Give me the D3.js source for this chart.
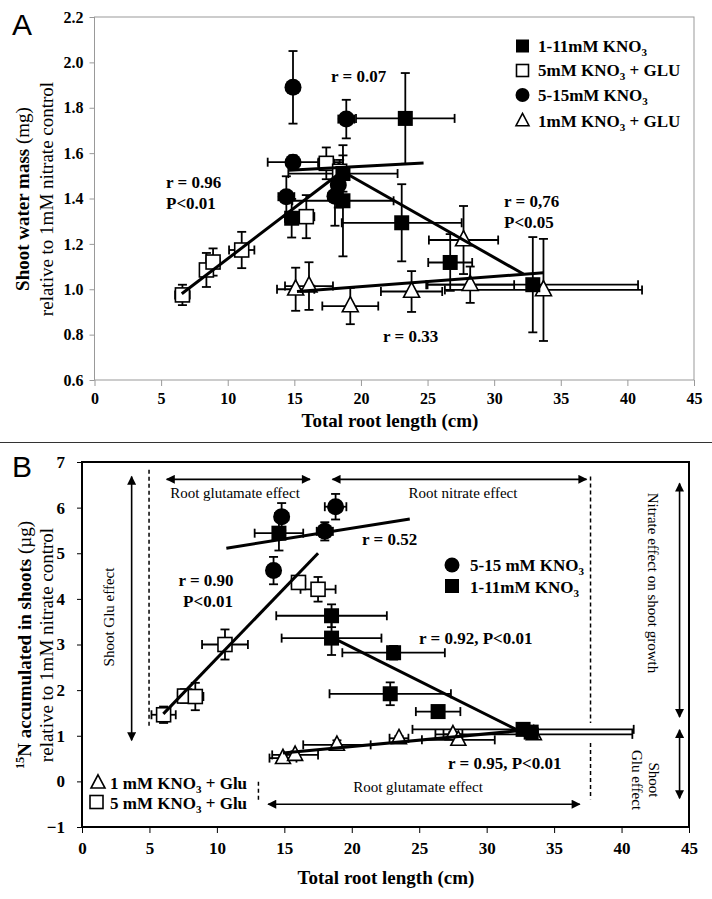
<!DOCTYPE html>
<html><head><meta charset="utf-8">
<script src="https://cdn.jsdelivr.net/npm/d3@7"></script>
<style>body{margin:0;background:#fff}</style>
</head><body><svg id="c" width="712" height="899" xmlns="http://www.w3.org/2000/svg"></svg>
<script>
// ---------- DATA ----------
const xTicks = [0,5,10,15,20,25,30,35,40,45];
const yTicksA = [0.6,0.8,1.0,1.2,1.4,1.6,1.8,2.0,2.2];
const yTicksB = [-1,0,1,2,3,4,5,6,7];

// Panel A: [rootLength, shootWater, xErr, yErr]
const aNit1_11 = [[23.33,1.753,3.7,0.20],[18.65,1.51,4.1,0.08],[18.65,1.39,3.8,0.245],[23.06,1.293,4.5,0.17],[26.7,1.118,1.65,0.125],[32.9,1.02,7.9,0.21],[14.8,1.313,0.5,0.085]];
const aGlu5 = [[6.6,0.975,0.55,0.045],[8.4,1.085,0.45,0.075],[8.9,1.12,0.5,0.06],[11.05,1.173,0.95,0.08],[15.9,1.32,0.6,0.095],[17.4,1.555,0.6,0.07],[18.4,1.52,0.4,0.05]];
const aNit5_15 = [[14.9,1.89,0.45,0.16],[18.9,1.75,0.6,0.085],[14.9,1.56,1.9,0.03],[14.4,1.408,0.6,0.09],[18.05,1.41,0.5,0.13],[18.3,1.46,0.4,0.1]];
const aGlu1 = [[15.1,1.0,1.4,0.095],[16.1,1.014,1.8,0.105],[19.2,0.926,2.1,0.08],[23.8,0.99,2.3,0.09],[28.2,1.02,3.3,0.08],[27.7,1.217,2.6,0.15],[33.7,0.997,7.4,0.225]];
const aFitGlu5 = [[6.55,0.98],[18.6,1.52]];
const aFitNit = [[18.6,1.52],[32.2,1.067]];
const aFitCirc = [[14.6,1.525],[24.7,1.556]];
const aFitGlu1 = [[15.2,0.99],[33.7,1.073]];

// Panel B: [rootLength, 15N, xErr, yErr]
const bNit5_15 = [[14.8,5.80,0.5,0.3],[14.2,4.62,0.45,0.3],[18.0,5.48,0.6,0.2],[18.8,6.02,0.8,0.28]];
const bNit1_11 = [[14.6,5.44,1.8,0.38],[18.5,3.63,4.1,0.25],[18.5,3.14,3.7,0.37],[23.1,2.82,3.8,0.15],[22.85,1.92,4.5,0.25],[26.4,1.53,1.65,0.1],[32.7,1.14,8.2,0.08],[33.3,1.08,0.5,0.05]];
const bGlu5 = [[6.05,1.46,0.9,0.18],[7.6,1.87,0.5,0.15],[8.4,1.86,0.6,0.3],[10.6,3.0,1.7,0.33],[16.05,4.36,0.5,0.1],[17.5,4.21,1.3,0.27]];
const bGlu1 = [[14.9,0.51,1.0,0.05],[15.8,0.58,1.7,0.08],[18.9,0.80,2.5,0.1],[23.5,0.945,0.7,0.05],[27.5,1.03,0.7,0.05],[27.9,0.91,2.7,0.05],[33.5,1.03,7.3,0.05]];
const bFitCirc = [[10.7,5.11],[24.3,5.75]];
const bFitGlu5 = [[6.03,1.48],[17.5,5.0]];
const bFitNit = [[18.5,3.16],[32.25,1.13]];
const bFitGlu1 = [[14.9,0.62],[33.5,1.14]];

// ---------- DRAW ----------
const SERIF = "'Liberation Serif','Times New Roman',serif";
const svg = d3.select("#c");
const defs = svg.append("defs");
defs.append("marker").attr("id","ah").attr("viewBox","0 0 10 10").attr("refX",9).attr("refY",5)
  .attr("markerWidth",10).attr("markerHeight",9).attr("markerUnits","userSpaceOnUse").attr("orient","auto-start-reverse")
  .append("path").attr("d","M0,0 L10,5 L0,10 z").attr("fill","#000");

function richText(g, x, y, parts, opts={}) {
  const size = opts.size||17;
  const t = g.append("text").attr("x",x).attr("y",y)
    .attr("font-family",SERIF).attr("font-size",size)
    .attr("font-weight",opts.weight||"bold").attr("text-anchor",opts.anchor||"start").attr("fill","#000");
  if (opts.transform) t.attr("transform",opts.transform);
  parts.forEach(p => {
    if (typeof p === "string") t.append("tspan").text(p);
    else {
      const ts = t.append("tspan").text(p.t);
      if (p.sub) ts.attr("font-size",size*0.65).attr("dy",4);
      if (p.sup) ts.attr("font-size",size*0.65).attr("dy",-7);
      if (p.w) ts.attr("font-weight",p.w);
      if (p.back) ts.attr("dy",p.back);
    }
  });
  return t;
}

function errorBars(g, data, xs, ys, cap=4.5) {
  const e = g.append("g").attr("stroke","#000").attr("stroke-width",1.8).attr("fill","none");
  data.forEach(d => {
    const cx = xs(d[0]), cy = ys(d[1]);
    const x0 = xs(d[0]-d[2]), x1 = xs(d[0]+d[2]);
    const y0 = ys(d[1]-d[3]), y1 = ys(d[1]+d[3]);
    e.append("line").attr("x1",x0).attr("x2",x1).attr("y1",cy).attr("y2",cy);
    e.append("line").attr("x1",x0).attr("x2",x0).attr("y1",cy-cap).attr("y2",cy+cap);
    e.append("line").attr("x1",x1).attr("x2",x1).attr("y1",cy-cap).attr("y2",cy+cap);
    e.append("line").attr("x1",cx).attr("x2",cx).attr("y1",y0).attr("y2",y1);
    e.append("line").attr("x1",cx-cap).attr("x2",cx+cap).attr("y1",y0).attr("y2",y0);
    e.append("line").attr("x1",cx-cap).attr("x2",cx+cap).attr("y1",y1).attr("y2",y1);
  });
}

function marker(g, shape, x, y, s) {
  if (shape === "circle") {
    g.append("circle").attr("cx",x).attr("cy",y).attr("r",s/2).attr("fill","#000");
  } else if (shape === "square") {
    g.append("rect").attr("x",x-s/2).attr("y",y-s/2).attr("width",s).attr("height",s).attr("fill","#000");
  } else if (shape === "osquare") {
    g.append("rect").attr("x",x-s/2).attr("y",y-s/2).attr("width",s).attr("height",s).attr("fill","#fff").attr("stroke","#000").attr("stroke-width",1.6);
  } else if (shape === "otri") {
    const h = s*0.95;
    g.append("path").attr("d",`M${x},${y-h*0.62} L${x+s/2},${y+h*0.38} L${x-s/2},${y+h*0.38} Z`)
      .attr("fill","#fff").attr("stroke","#000").attr("stroke-width",1.6).attr("stroke-linejoin","miter");
  }
}
function points(g, data, xs, ys, shape, s) {
  const m = g.append("g");
  data.forEach(d => marker(m, shape, xs(d[0]), ys(d[1]), s));
}
function fit(g, pts, xs, ys, w=3) {
  g.append("path").attr("d", d3.line().x(d=>xs(d[0])).y(d=>ys(d[1]))(pts))
    .attr("stroke","#000").attr("stroke-width",w).attr("fill","none");
}

// ---------------- Panel A ----------------
const xA = d3.scaleLinear().domain([0,45]).range([94.5,694]);
const yA = d3.scaleLinear().domain([0.6,2.2]).range([380,17]);
const gA = svg.append("g");

const axA = gA.append("g").attr("transform","translate(0,380)")
  .call(d3.axisBottom(xA).tickValues(xTicks).tickSize(6).tickSizeOuter(0).tickPadding(7));
const ayA = gA.append("g").attr("transform","translate(94.5,0)")
  .call(d3.axisLeft(yA).tickValues(yTicksA).tickFormat(d3.format(".1f")).tickSize(5).tickSizeOuter(0).tickPadding(6));
[axA,ayA].forEach(a => {
  a.select(".domain").remove();
  a.selectAll("line").attr("stroke","#999");
  a.selectAll("text").attr("font-family",SERIF).attr("font-weight","bold").attr("font-size",16).attr("fill","#000");
});
gA.append("rect").attr("x",94.5).attr("y",17).attr("width",694-94.5).attr("height",363)
  .attr("fill","none").attr("stroke","#999").attr("stroke-width",1);

errorBars(gA, aGlu1, xA, yA);
errorBars(gA, aGlu5, xA, yA);
errorBars(gA, aNit1_11, xA, yA);
errorBars(gA, aNit5_15, xA, yA);
points(gA, aGlu1, xA, yA, "otri", 16);
points(gA, aGlu5, xA, yA, "osquare", 14);
points(gA, aNit1_11, xA, yA, "square", 15);
points(gA, aNit5_15, xA, yA, "circle", 17);
fit(gA, aFitGlu5, xA, yA);
fit(gA, aFitNit, xA, yA);
fit(gA, aFitCirc, xA, yA);
fit(gA, aFitGlu1, xA, yA);

richText(gA, 331, 82, ["r = 0.07"]);
richText(gA, 166, 188, ["r = 0.96"]);
richText(gA, 166, 209, ["P<0.01"]);
richText(gA, 504, 207, ["r =  0,76"]);
richText(gA, 504, 228, ["P<0.05"]);
richText(gA, 383, 342, ["r = 0.33"]);

// legend A
const legA = gA.append("g");
marker(legA, "square", 522.5, 46, 13);
marker(legA, "osquare", 522.5, 70.5, 12);
marker(legA, "circle", 522.5, 95, 14);
marker(legA, "otri", 522.5, 121, 13);
richText(legA, 538, 52, ["1-11mM KNO",{t:"3",sub:true}]);
richText(legA, 538, 76, ["5mM KNO",{t:"3",sub:true},{t:" + GLU",back:-4}]);
richText(legA, 538, 101, ["5-15mM KNO",{t:"3",sub:true}]);
richText(legA, 538, 127, ["1mM KNO",{t:"3",sub:true},{t:" + GLU",back:-4}]);

// axis titles A
richText(gA, 390, 427, ["Total root length (cm)"], {size:19, anchor:"middle"});
richText(gA, 0, 0, ["Shoot water mass ",{t:"(mg)",w:"normal"}], {size:19, anchor:"middle", transform:"translate(29,199) rotate(-90)"});
richText(gA, 0, 0, ["relative to 1mM nitrate control"], {size:19, weight:"normal", anchor:"middle", transform:"translate(53,199) rotate(-90)"});

svg.append("text").attr("x",12).attr("y",35).attr("font-family","'Liberation Sans',Arial,sans-serif").attr("font-size",30).text("A");
svg.append("line").attr("x1",0).attr("x2",712).attr("y1",442.5).attr("y2",442.5).attr("stroke","#333").attr("stroke-width",1.2);

// ---------------- Panel B ----------------
const xB = d3.scaleLinear().domain([0,45]).range([82,689]);
const yB = d3.scaleLinear().domain([-1,7]).range([827,462]);
const gB = svg.append("g");

const axB = gB.append("g").attr("transform","translate(0,827)")
  .call(d3.axisBottom(xB).tickValues(xTicks).tickSize(6).tickSizeOuter(0).tickPadding(9));
const ayB = gB.append("g").attr("transform","translate(82,0)")
  .call(d3.axisLeft(yB).tickValues(yTicksB).tickSize(5).tickSizeOuter(0).tickPadding(12));
[axB,ayB].forEach(a => {
  a.select(".domain").remove();
  a.selectAll("line").attr("stroke","#000").attr("stroke-width",1);
  a.selectAll("text").attr("font-family",SERIF).attr("font-weight","bold").attr("font-size",17).attr("fill","#000");
});
gB.append("rect").attr("x",82).attr("y",462).attr("width",689-82).attr("height",827-462)
  .attr("fill","none").attr("stroke","#000").attr("stroke-width",2);

errorBars(gB, bGlu1, xB, yB);
errorBars(gB, bGlu5, xB, yB);
errorBars(gB, bNit1_11, xB, yB);
errorBars(gB, bNit5_15, xB, yB);
points(gB, bGlu1, xB, yB, "otri", 15);
points(gB, bGlu5, xB, yB, "osquare", 14);
points(gB, bNit1_11, xB, yB, "square", 15);
points(gB, bNit5_15, xB, yB, "circle", 17);
fit(gB, bFitCirc, xB, yB);
fit(gB, bFitGlu5, xB, yB);
fit(gB, bFitNit, xB, yB);
fit(gB, bFitGlu1, xB, yB);

// guide lines & arrows (drawn in data space)
const ann = gB.append("g");
function vdash(x, y0, y1) {
  ann.append("line").attr("x1",xB(x)).attr("x2",xB(x)).attr("y1",yB(y0)).attr("y2",yB(y1))
    .attr("stroke","#000").attr("stroke-width",1.5).attr("stroke-dasharray","4,3");
}
function arrow(x0,y0,x1,y1) {
  ann.append("line").attr("x1",xB(x0)).attr("y1",yB(y0)).attr("x2",xB(x1)).attr("y2",yB(y1))
    .attr("stroke","#000").attr("stroke-width",1.6)
    .attr("marker-start","url(#ah)").attr("marker-end","url(#ah)");
}
vdash(4.97, 6.83, 1.21);
vdash(37.7, 6.68, 1.28);
vdash(37.7, 0.84, -0.39);
vdash(13.08, -0.01, -0.47);
arrow(6.28, 6.62, 16.9, 6.62);
arrow(18.57, 6.62, 37.4, 6.62);
arrow(13.8, -0.5, 36.9, -0.5);
arrow(3.68, 6.68, 3.68, 0.9);
arrow(44.3, 6.53, 44.3, 1.41);
arrow(44.3, 1.13, 44.3, -0.37);

const reg = {size:15, weight:"normal"};
richText(gB, 235, 498, ["Root glutamate effect"], {...reg, anchor:"middle"});
richText(gB, 463, 498, ["Root nitrate effect"], {...reg, anchor:"middle"});
richText(gB, 418, 792, ["Root glutamate effect"], {...reg, anchor:"middle"});
richText(gB, 0, 0, ["Shoot Glu effect"], {...reg, anchor:"middle", transform:"translate(114,617) rotate(-90)"});
richText(gB, 0, 0, ["Nitrate effect on shoot growth"], {...reg, anchor:"middle", transform:"translate(648,583) rotate(90)"});
richText(gB, 0, 0, ["Shoot"], {...reg, anchor:"middle", transform:"translate(649,780) rotate(90)"});
richText(gB, 0, 0, ["Glu effect"], {...reg, anchor:"middle", transform:"translate(632,780) rotate(90)"});

richText(gB, 362, 545, ["r = 0.52"]);
richText(gB, 206, 586, ["r = 0.90"], {anchor:"middle"});
richText(gB, 208, 607, ["P<0.01"], {anchor:"middle"});
richText(gB, 419, 644, ["r = 0.92, P<0.01"]);
richText(gB, 448, 769, ["r = 0.95, P<0.01"]);

// legend B
const legB = gB.append("g");
marker(legB, "circle", 452, 565, 15);
marker(legB, "square", 452, 586, 14);
richText(legB, 470, 571, ["5-15 mM KNO",{t:"3",sub:true}]);
richText(legB, 470, 593, ["1-11mM KNO",{t:"3",sub:true}]);
marker(legB, "otri", 98, 783, 14);
marker(legB, "osquare", 96.5, 802, 13);
richText(legB, 110, 789, ["1 mM KNO",{t:"3",sub:true},{t:" + Glu",back:-4}]);
richText(legB, 110, 809, ["5 mM KNO",{t:"3",sub:true},{t:" + Glu",back:-4}]);

// axis titles B
richText(gB, 386, 884, ["Total root length (cm)"], {size:19, anchor:"middle"});
richText(gB, 0, 0, [{t:"15",sup:true},{t:"N accumulated in shoots ",back:7},{t:"(µg)",w:"normal"}], {size:19, anchor:"middle", transform:"translate(31,645) rotate(-90)"});
richText(gB, 0, 0, ["relative to 1mM nitrate control"], {size:19, weight:"normal", anchor:"middle", transform:"translate(53,645) rotate(-90)"});

svg.append("text").attr("x",12).attr("y",477).attr("font-family","'Liberation Sans',Arial,sans-serif").attr("font-size",30).text("B");
</script>
</body></html>
